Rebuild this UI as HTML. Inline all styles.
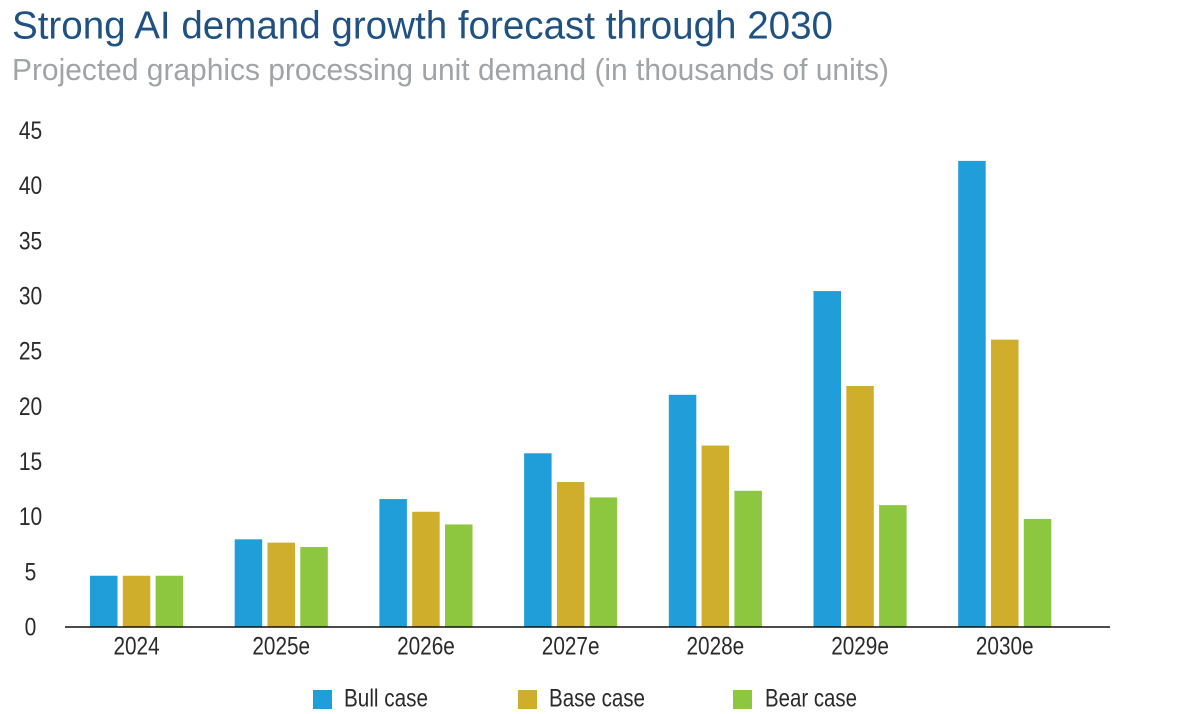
<!DOCTYPE html>
<html lang="en">
<head>
<meta charset="utf-8">
<title>Strong AI demand growth forecast through 2030</title>
<style>
html,body{margin:0;padding:0;background:#fff;width:1200px;height:714px;overflow:hidden}
svg{display:block}
text{font-family:"Liberation Sans",sans-serif}
</style>
</head>
<body>
<svg id="chart" width="1200" height="714" viewBox="0 0 1200 714" xmlns="http://www.w3.org/2000/svg">
<text x="12" y="38.5" font-size="39" fill="#1f5282" textLength="821" lengthAdjust="spacingAndGlyphs">Strong AI demand growth forecast through 2030</text>
<text x="12" y="80" font-size="31" fill="#a0a4a7" textLength="877" lengthAdjust="spacingAndGlyphs">Projected graphics processing unit demand (in thousands of units)</text>
<g id="y-axis"></g>
<g id="bars"></g>
<g id="x-axis"></g>
<g id="legend"></g>
</svg>
<script>
const categories = ['2024','2025e','2026e','2027e','2028e','2029e','2030e'];
const bullCase = [4.6,7.9,11.55,15.7,21.0,30.4,42.2];
const baseCase = [4.6,7.6,10.4,13.1,16.4,21.8,26.0];
const bearCase = [4.6,7.2,9.25,11.7,12.3,11.0,9.75];
const yTicks = [0,5,10,15,20,25,30,35,40,45];
const seriesNames = ['Bull case','Base case','Bear case'];

const NS = 'http://www.w3.org/2000/svg';
const seriesValues = [bullCase, baseCase, bearCase];
const seriesKeys = ['bull','base','bear'];
const seriesColors = ['#209ed9','#cfae2b','#8dc63f'];
const labelWidths = [84,96,92];
const legendX = [313,518,734];
const yMax = 45;
const y0 = 626.5, y45 = 130;
const firstBarX = 90, groupPitch = 144.7, barStep = 32.8, barWidth = 27.5;
const yScale = v => y0 - (v / yMax) * (y0 - y45);
const xScale = (c, s) => firstBarX + c * groupPitch + s * barStep;

function make(tag, parent, attrs, text) {
  const el = document.createElementNS(NS, tag);
  for (const k in attrs) el.setAttribute(k, attrs[k]);
  if (text !== undefined) el.textContent = text;
  parent.appendChild(el);
  return el;
}

const yAxis = document.getElementById('y-axis');
yTicks.forEach(t => {
  const el = make('text', yAxis, {x: 30.5, y: yScale(t) + 9, 'font-size': 25, fill: '#2a2a2a', 'text-anchor': 'middle', transform: 'translate(' + 30.5 + ' 0) scale(0.84 1) translate(' + (-30.5) + ' 0)'}, String(t));
  
  
});

const barsGroup = document.getElementById('bars');
seriesValues.forEach((vals, s) => {
  vals.forEach((v, c) => {
    const el = make('rect', barsGroup, {x: xScale(c, s), y: yScale(v), width: barWidth, height: y0 - yScale(v), fill: seriesColors[s]});
    
    
  });
});

const xAxis = document.getElementById('x-axis');
const axisLine = make('line', xAxis, {x1: 65, x2: 1110, y1: 627, y2: 627, stroke: '#111', 'stroke-width': 1.6});


categories.forEach((cat, c) => {
  const cx = xScale(c, 1) + barWidth / 2;
  const el = make('text', xAxis, {x: cx, y: 654.5, 'font-size': 25, fill: '#2a2a2a', 'text-anchor': 'middle', transform: 'translate(' + cx + ' 0) scale(0.83 1) translate(' + (-cx) + ' 0)'}, cat);
  
  
});

const legend = document.getElementById('legend');
seriesNames.forEach((name, s) => {
  const swatch = make('rect', legend, {x: legendX[s] - (s === 2 ? 1 : 0), y: 690, width: 19, height: 19, fill: seriesColors[s]});
  
  
  const label = make('text', legend, {x: legendX[s] + 31, y: 706.5, 'font-size': 25, fill: '#2a2a2a', textLength: labelWidths[s], lengthAdjust: 'spacingAndGlyphs'}, name);
  
  
});
</script>
</body>
</html>
